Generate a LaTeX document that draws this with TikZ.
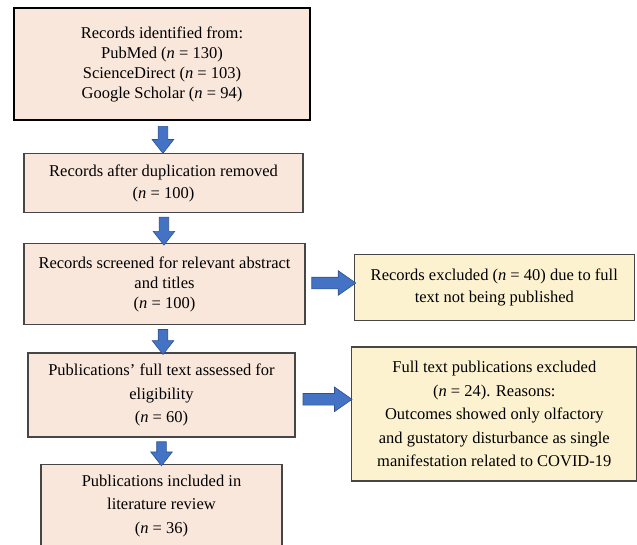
\documentclass[tikz,border=0pt]{standalone}
\usepackage{fontspec}
\setmainfont{Liberation Serif}
\usepackage{xcolor}
\usepackage{tikz}
\usetikzlibrary{
  positioning,
  shapes.arrows,
  calc
}
\definecolor{boxpeach}{RGB}{249,231,219}
\definecolor{boxcream}{RGB}{253,242,208}
\definecolor{boxline}{RGB}{70,70,70}
\definecolor{arrblue}{RGB}{68,114,196}
\definecolor{arrdark}{RGB}{47,82,143}

\begin{document}
\begin{tikzpicture}[
  stage/.style={draw=boxline, fill=boxpeach, line width=1.3pt,
                align=center, inner sep=2pt,
                font=\fontsize{16.5}{22}\selectfont},
  tight/.style={font=\fontsize{16.5}{20}\selectfont},
  loose/.style={font=\fontsize{16.5}{23.5}\selectfont},
  excl/.style={stage, fill=boxcream},
  downarr/.style={single arrow, draw=arrdark, fill=arrblue, line width=0.6pt,
                  inner sep=4.5pt, single arrow head extend=6pt,
                  single arrow tip angle=76, rotate=-90},
  sidearr/.style={single arrow, draw=arrdark, fill=arrblue, line width=0.6pt,
                  inner sep=5.5pt, single arrow head extend=6.5pt,
                  single arrow tip angle=70},
]
\useasboundingbox (0pt,0pt) rectangle (637pt,-545pt);

\node[stage, tight, draw=black, line width=1.6pt, minimum width=296pt, minimum height=112pt]
  (found) at (162pt,-64pt)
  {Records identified from:\\ PubMed (\textit{n} = 130)\\
   ScienceDirect (\textit{n} = 103)\\ Google Scholar (\textit{n} = 94)};
\node[stage, below=32pt of found, xshift=1.5pt, minimum width=279pt, minimum height=59pt]
  (dedup) {Records after duplication removed\\ (\textit{n} = 100)};
\node[stage, tight, below=30pt of dedup, xshift=1pt, minimum width=281pt, minimum height=81pt]
  (screen) {Records screened for relevant abstract\\ and titles\\ (\textit{n} = 100)};
\node[stage, loose, below=27pt of screen, xshift=-3pt, minimum width=267pt, minimum height=84pt]
  (fulltext) {Publications’ full text assessed for\\ eligibility\\ (\textit{n} = 60)};
\node[stage, loose, below=26pt of fulltext, minimum width=241pt, minimum height=83pt]
  (included) {Publications included in\\ literature review\\ (\textit{n} = 36)};

\node[excl, right=48pt of screen, yshift=-3.5pt, minimum width=280pt, minimum height=66pt]
  (nopub) {Records excluded (\textit{n} = 40) due to full\\ text not being published};
\node[excl, loose, below=25pt of nopub, minimum width=285pt, minimum height=134pt]
  (reasons) {Full text publications excluded\\ (\textit{n} = 24). Reasons:\\
   Outcomes showed only olfactory\\ and gustatory disturbance as single\\
   manifestation related to COVID-19};

\path (found) -- node[downarr, minimum height=27pt] {} (dedup);
\path (dedup) -- node[downarr, minimum height=28pt] {} (screen);
\path (screen) -- node[downarr, minimum height=25pt] {} (fulltext);
\path (fulltext) -- node[downarr, minimum height=24pt] {} (included);
\path (screen) -- node[sidearr, yshift=3pt, minimum height=44pt] {} (nopub);
\path (fulltext) -- node[sidearr, yshift=5pt, minimum height=49pt] {} (reasons);

\end{tikzpicture}
\end{document}
